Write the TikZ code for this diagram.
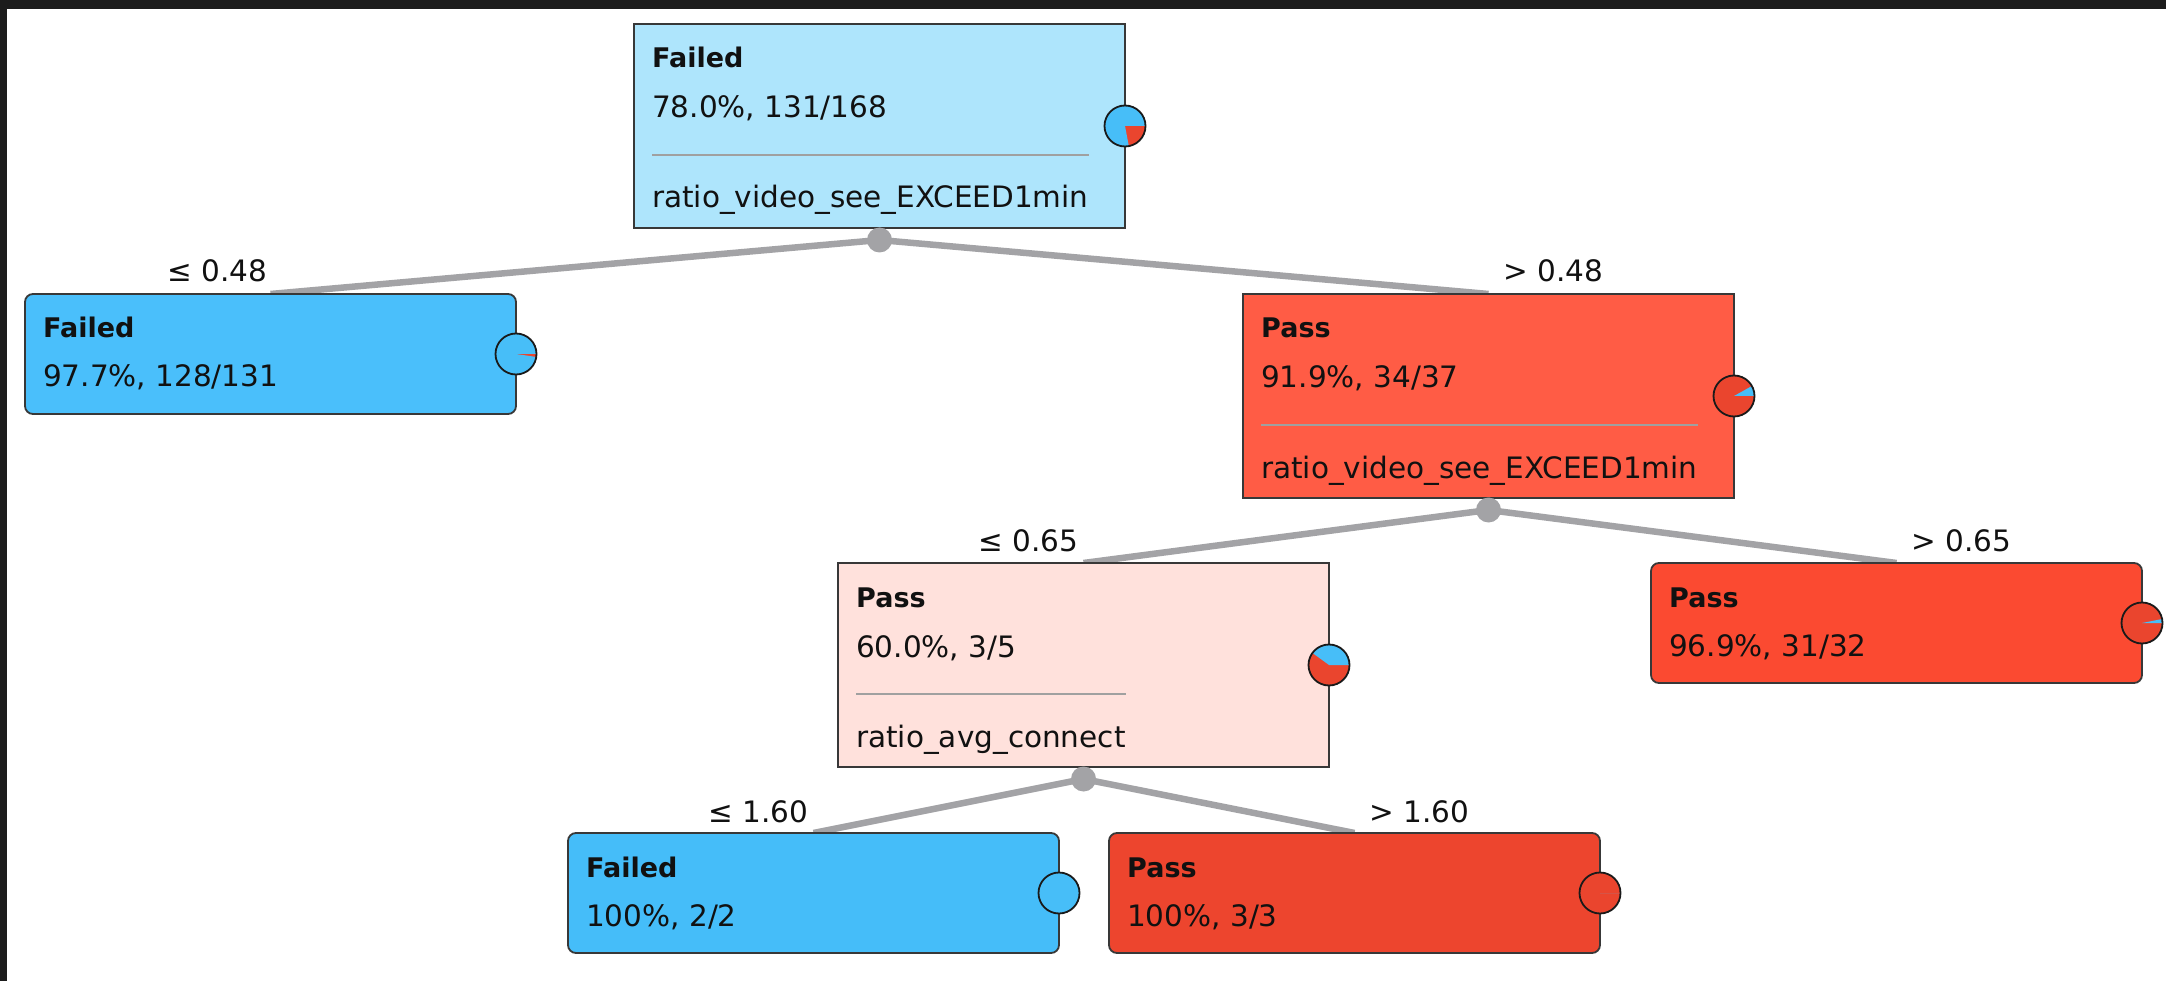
\documentclass[tikz,border=0pt]{standalone}
\usepackage{fontspec}
\setmainfont{DejaVu Sans}
\usetikzlibrary{backgrounds}
\definecolor{framec}{HTML}{1C1C1C}
\definecolor{bordc}{HTML}{383838}
\definecolor{edgec}{HTML}{A3A3A6}
\definecolor{sepc}{HTML}{A0A0A0}
\definecolor{txt}{HTML}{111111}
\definecolor{rootc}{HTML}{AEE5FC}
\definecolor{failA}{HTML}{4ABFFB}
\definecolor{failB}{HTML}{45BDF9}
\definecolor{passA}{HTML}{FF5C45}
\definecolor{passB}{HTML}{FB4A31}
\definecolor{passC}{HTML}{ED452E}
\definecolor{passL}{HTML}{FFE1DC}
\definecolor{pblue}{HTML}{47BEF8}
\definecolor{pred}{HTML}{EA452E}
\definecolor{pline}{HTML}{1A1A1A}
\newcommand{\pieat}[2]{%
  \begin{scope}[shift={(#1)}, yscale=-1]
    \fill[pred] (0,0) circle[radius=20.5];
    \fill[pblue] (0,0) -- (0:20.5) arc[start angle=0, end angle=#2, radius=20.5] -- cycle;
    \draw[pline, line width=1.8pt] (0,0) circle[radius=20.5];
  \end{scope}}
\begin{document}
\begin{tikzpicture}[x=1pt,y=-1pt,
  box/.style={draw=bordc, line width=1.8pt, minimum width=491pt, anchor=north west, inner sep=0pt, outer sep=0pt},
  innerbox/.style={box, minimum height=204pt},
  leafbox/.style={box, minimum height=120pt, rounded corners=8pt},
  ttl/.style={anchor=base west, inner sep=0pt, font=\fontsize{27}{30}\selectfont\bfseries, text=txt},
  txtl/.style={anchor=base west, inner sep=0pt, font=\fontsize{29.5}{32}\selectfont, text=txt},
  lbl/.style={anchor=base west, inner sep=0pt, font=\fontsize{29.5}{32}\selectfont, text=txt},
  edgeline/.style={draw=edgec, line width=6.5pt},
  jdot/.style={circle, fill=edgec, minimum size=25pt, inner sep=0pt},
  sepline/.style={draw=sepc, line width=2.6pt}
]
\useasboundingbox (0,0) rectangle (2166,981);

% boxes
\node[innerbox, fill=rootc] (root) at (634,24) {};
\node[leafbox, fill=failA] (l1) at (25,294) {};
\node[innerbox, fill=passA] (r1) at (1243,294) {};
\node[innerbox, fill=passL] (l2) at (838,563) {};
\node[leafbox, fill=passB] (r2) at (1651,563) {};
\node[leafbox, fill=failB] (l3) at (568,833) {};
\node[leafbox, fill=passC] (r3) at (1109,833) {};

% junction dots
\node[jdot] (j1) at ([yshift=-12pt]root.south) {};
\node[jdot] (j2) at ([yshift=-12pt]r1.south) {};
\node[jdot] (j3) at ([yshift=-12pt]l2.south) {};

\begin{scope}[on background layer]
  \fill[white] (0,0) rectangle (2166,981);
  \fill[framec] (0,0) rectangle (2166,9);
  \fill[framec] (0,0) rectangle (7,981);
  \draw[edgeline] (j1.center) -- (l1.north);
  \draw[edgeline] (j1.center) -- (r1.north);
  \draw[edgeline] (j2.center) -- (l2.north);
  \draw[edgeline] (j2.center) -- (r2.north);
  \draw[edgeline] (j3.center) -- (l3.north);
  \draw[edgeline] (j3.center) -- (r3.north);
\end{scope}

% root text
\node[ttl] (rootT) at ([xshift=18pt,yshift=-44pt]root.north west) {Failed};
\node[txtl] (rootS) at ([xshift=18pt,yshift=-94pt]root.north west) {78.0\%, 131/168};
\node[txtl] (rootA) at ([xshift=18pt,yshift=-184pt]root.north west) {ratio\_video\_see\_EXCEED1min};
\draw[sepline] ([yshift=53pt]rootA.base west) -- ([yshift=53pt]rootA.base east);

% l1 text
\node[ttl] (l1T) at ([xshift=18pt,yshift=-44pt]l1.north west) {Failed};
\node[txtl] (l1S) at ([xshift=18pt,yshift=-93pt]l1.north west) {97.7\%, 128/131};

% r1 text
\node[ttl] (r1T) at ([xshift=18pt,yshift=-44pt]r1.north west) {Pass};
\node[txtl] (r1S) at ([xshift=18pt,yshift=-94pt]r1.north west) {91.9\%, 34/37};
\node[txtl] (r1A) at ([xshift=18pt,yshift=-184pt]r1.north west) {ratio\_video\_see\_EXCEED1min};
\draw[sepline] ([yshift=53pt]r1A.base west) -- ([yshift=53pt]r1A.base east);

% l2 text
\node[ttl] (l2T) at ([xshift=18pt,yshift=-44pt]l2.north west) {Pass};
\node[txtl] (l2S) at ([xshift=18pt,yshift=-94pt]l2.north west) {60.0\%, 3/5};
\node[txtl] (l2A) at ([xshift=18pt,yshift=-184pt]l2.north west) {ratio\_avg\_connect};
\draw[sepline] ([yshift=53pt]l2A.base west) -- ([yshift=53pt]l2A.base east);

% r2 text
\node[ttl] (r2T) at ([xshift=18pt,yshift=-44pt]r2.north west) {Pass};
\node[txtl] (r2S) at ([xshift=18pt,yshift=-93pt]r2.north west) {96.9\%, 31/32};

% l3 text
\node[ttl] (l3T) at ([xshift=18pt,yshift=-44pt]l3.north west) {Failed};
\node[txtl] (l3S) at ([xshift=18pt,yshift=-93pt]l3.north west) {100\%, 2/2};

% r3 text
\node[ttl] (r3T) at ([xshift=18pt,yshift=-44pt]r3.north west) {Pass};
\node[txtl] (r3S) at ([xshift=18pt,yshift=-93pt]r3.north west) {100\%, 3/3};

% edge labels
\node[lbl] (e1) at (167,282) {≤ 0.48};
\node[lbl] (e2) at (1503,282) {> 0.48};
\node[lbl] (e3) at (978,551) {≤ 0.65};
\node[lbl] (e4) at (1911,551) {> 0.65};
\node[lbl] (e5) at (708,822) {≤ 1.60};
\node[lbl] (e6) at (1369,822) {> 1.60};

% pies
\pieat{root.east}{280.8}
\pieat{l1.east}{351.7}
\pieat{r1.east}{29.2}
\pieat{l2.east}{144}
\pieat{r2.east}{11.25}
\pieat{l3.east}{360}
\pieat{r3.east}{0}
\end{tikzpicture}
\end{document}
